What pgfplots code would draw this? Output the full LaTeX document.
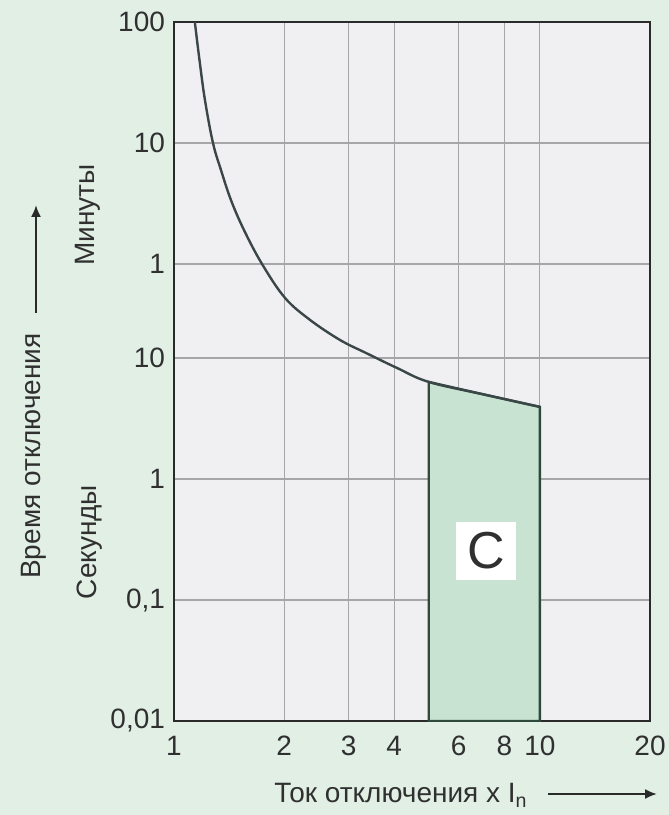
\documentclass[border=0pt]{standalone}
\usepackage{fontspec}
\setmainfont{Liberation Sans}
\usepackage{pgfplots}
\pgfplotsset{compat=1.18}
\usetikzlibrary{arrows.meta}
\definecolor{bgmint}{HTML}{E1EFE5}
\definecolor{plotbg}{HTML}{F0F0F3}
\definecolor{gridc}{HTML}{A6A6A6}
\definecolor{cfill}{HTML}{C8E3D1}
\definecolor{cedge}{HTML}{2D4A3C}
\definecolor{curvec}{HTML}{3B4747}
\definecolor{txt}{HTML}{303030}
\definecolor{axc}{HTML}{2A2A2A}
\begin{document}
\begin{tikzpicture}
\fill[bgmint] (-87pt,-47pt) rectangle (247.5pt,360.5pt);
\begin{axis}[
  at={(0,0)}, anchor=south west,
  scale only axis,
  width=238pt, height=349.5pt,
  xmode=log, ymode=log,
  xmin=1, xmax=20, ymin=0.01, ymax=6000,
  xtick={1,2,3,4,6,8,10,20},
  xticklabels={1,2,3,4,6,8,10,20},
  ytick={0.01,0.1,1,10,60,600,6000},
  yticklabels={{0,01},{0,1},1,10,1,10,100},
  minor xtick={}, minor ytick={},
  major tick length=0pt,
  grid=major,
  major grid style={draw=gridc, line width=0.6pt},
  axis background/.style={fill=plotbg},
  axis line style={draw=axc, line width=1.3pt},
  /pgf/number format/assume math mode=true,
  ticklabel style={font=\fontsize{14}{16}\selectfont, text=txt},
  xticklabel style={yshift=-4pt},
  yticklabel style={xshift=-1pt},
  clip=true,
]
\addplot[fill=cfill, draw=cedge, line width=1.2pt] coordinates {
  (4.97,0.01) (4.97,6.35) (7.12,4.96) (10,3.95) (10,0.01)
} -- cycle;
\addplot[curvec, line width=1.2pt, smooth, tension=0.6] coordinates {
  (1.136,6855) (1.141,5890) (1.174,2911) (1.215,1359) (1.278,600)
  (1.344,358.7) (1.431,202.7) (1.553,114.6) (1.740,60) (2.01,31.5)
  (2.353,20.7) (2.842,14.12) (3.346,11.03) (4.068,8.29) (4.97,6.35)
  (7.12,4.96) (10,3.95)
};
\node[fill=white, minimum width=30pt, minimum height=29pt, inner sep=0pt,
      font=\fontsize{26}{28}\selectfont, text=txt] at (axis cs:7.12,0.255) {C};
\end{axis}
% axis descriptions
\node[rotate=90, font=\fontsize{14}{16}\selectfont, text=txt] at (-70pt,132.5pt) {Время отключения};
\draw[axc, line width=1pt, -{Latex[length=6pt,width=5pt]}] (-69pt,204pt) -- (-69pt,258pt);
\node[rotate=90, font=\fontsize{14}{16}\selectfont, text=txt] at (-43pt,253pt) {Минуты};
\node[rotate=90, font=\fontsize{14}{16}\selectfont, text=txt] at (-42pt,89.5pt) {Секунды};
\node[anchor=base east, inner sep=0pt, font=\fontsize{14}{16}\selectfont, text=txt] at (177pt,-41pt) {Ток отключения x I\textsubscript{n}};
\draw[axc, line width=1pt, -{Latex[length=6pt,width=5pt]}] (187pt,-36.5pt) -- (241.5pt,-36.5pt);
\pgfresetboundingbox
\useasboundingbox (-87pt,-47pt) rectangle (247.5pt,360.5pt);
\end{tikzpicture}
\end{document}
